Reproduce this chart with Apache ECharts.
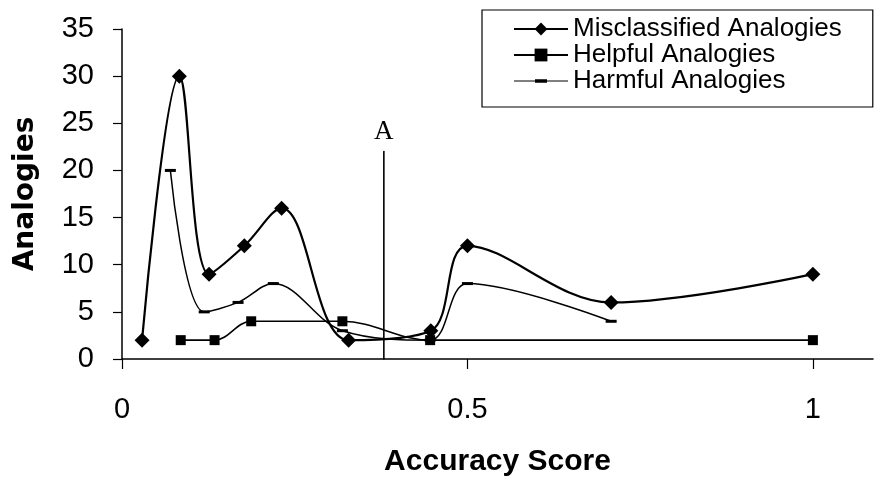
<!DOCTYPE html>
<html>
<head>
<meta charset="utf-8">
<script src="https://cdn.jsdelivr.net/npm/echarts@6/dist/echarts.min.js"></script>
<style>html,body{margin:0;padding:0;background:#fff;}#c{width:874px;height:489px;}</style>
</head>
<body>
<div id="c"></div>
<script>
// ---- data ----
const seriesNames = ['Misclassified Analogies', 'Helpful Analogies', 'Harmful Analogies'];
const misX = [0.029, 0.083, 0.126, 0.177, 0.231, 0.328, 0.447, 0.5, 0.708, 1.0];
const misY = [2, 30, 9, 12, 16, 2, 3, 12, 6, 9];
const helpX = [0.085, 0.134, 0.187, 0.319, 0.446, 1.0];
const helpY = [2, 2, 4, 4, 2, 2];
const harmX = [0.07, 0.119, 0.168, 0.219, 0.319, 0.446, 0.5, 0.708];
const harmY = [20, 5, 6, 8, 3, 2, 8, 4];
const markerAX = [0.379, 0.379];
const markerAY = [0, 22];
const markerALabel = 'A';
const xTickValues = [0, 0.5, 1];
const xAxisTitle = 'Accuracy Score';
const yAxisTitle = 'Analogies';

const zip = (xs, ys) => xs.map((x, i) => [x, ys[i]]);

const chart = echarts.init(document.getElementById('c'), null, {renderer: 'canvas'});
const black = '#000';
chart.setOption({
  animation: false,
  backgroundColor: '#fff',
  grid: {left: 122, right: 1, top: 29, bottom: 130},
  xAxis: {
    type: 'value', min: 0, max: 1.087,
    axisLine: {lineStyle: {color: black, width: 1.5}},
    axisTick: {customValues: xTickValues, length: 10, lineStyle: {color: black, width: 1.2}},
    axisLabel: {customValues: xTickValues, margin: 36, fontFamily: 'Liberation Sans', fontSize: 29, color: black,
      formatter: v => String(v)},
    splitLine: {show: false},
    name: xAxisTitle, nameLocation: 'middle', nameGap: 88,
    nameTextStyle: {fontFamily: 'Liberation Sans', fontWeight: 'bold', fontSize: 30, color: black}
  },
  yAxis: {
    type: 'value', min: 0, max: 35, interval: 5,
    axisLine: {show: true, lineStyle: {color: black, width: 1.5}},
    axisTick: {show: true, length: 9, lineStyle: {color: black, width: 1.2}},
    axisLabel: {margin: 28, fontFamily: 'Liberation Sans', fontSize: 29, color: black},
    splitLine: {show: false},
    name: yAxisTitle, nameLocation: 'middle', nameGap: 82, nameRotate: 90,
    nameTextStyle: {fontFamily: 'DejaVu Sans', fontWeight: 'bold', fontSize: 28, color: black}
  },
  legend: {
    data: [
      {name: seriesNames[0]},
      {name: seriesNames[1]},
      {name: seriesNames[2], icon: 'path://M0,7.4H54V8.6H0Z M21,6.3H33V9.7H21Z'}
    ],
    orient: 'vertical', left: 482, top: 10,
    borderColor: black, borderWidth: 1.2, borderRadius: 0,
    padding: [6, 31, 13, 31],
    itemWidth: 54, itemHeight: 16, itemGap: 0,
    textStyle: {fontFamily: 'Liberation Sans', fontSize: 26, color: black, lineHeight: 25.5}
  },
  series: [
    {
      name: seriesNames[0], type: 'line', data: zip(misX, misY), smooth: 0.36,
      symbol: 'diamond', symbolSize: 15,
      lineStyle: {color: black, width: 2.2}, itemStyle: {color: black}
    },
    {
      name: seriesNames[1], type: 'line', data: zip(helpX, helpY), smooth: 0.36,
      symbol: 'rect', symbolSize: 10,
      lineStyle: {color: black, width: 1.6}, itemStyle: {color: black}
    },
    {
      name: seriesNames[2], type: 'line', data: zip(harmX, harmY), smooth: 0.36,
      symbol: 'rect', symbolSize: [11, 3],
      lineStyle: {color: black, width: 1.5}, itemStyle: {color: black}
    },
    {
      name: 'A', type: 'line', data: zip(markerAX, markerAY),
      symbol: 'circle', symbolSize: 1.5, showSymbol: true,
      lineStyle: {color: black, width: 1.6}, itemStyle: {color: black},
      label: {show: true, position: 'top', distance: 5, fontFamily: 'Liberation Serif', fontSize: 27, color: black,
        formatter: p => p.dataIndex === markerAY.length - 1 ? markerALabel : ''}
    }
  ]
});
</script>
</body>
</html>
